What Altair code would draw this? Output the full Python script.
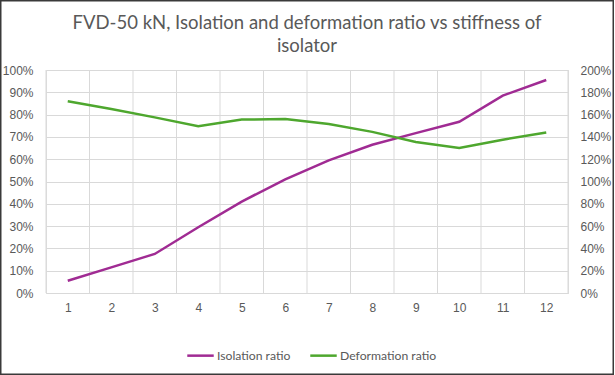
import altair as alt
import pandas as pd

# ---- data ----
categories = [1, 2, 3, 4, 5, 6, 7, 8, 9, 10, 11, 12]
isolation_ratio = [0.055, 0.115, 0.175, 0.295, 0.41, 0.51, 0.595, 0.665, 0.717, 0.768, 0.885, 0.955]
deformation_ratio = [1.72, 1.65, 1.575, 1.495, 1.555, 1.56, 1.515, 1.445, 1.355, 1.30, 1.375, 1.44]
series_names = ["Isolation ratio", "Deformation ratio"]
series_colors = ["#A02B93", "#4EA72E"]
left_ticks = [0, 0.1, 0.2, 0.3, 0.4, 0.5, 0.6, 0.7, 0.8, 0.9, 1.0]
right_ticks = [0, 0.2, 0.4, 0.6, 0.8, 1.0, 1.2, 1.4, 1.6, 1.8, 2.0]
title_lines = ["FVD-50 kN, Isolation and deformation ratio vs stiffness of", "isolator"]

df = pd.DataFrame({
    "k": categories * 2,
    "series": [series_names[0]] * len(categories) + [series_names[1]] * len(categories),
    "value": isolation_ratio + deformation_ratio,
})
# category boundaries for the vertical gridlines
bounds = pd.DataFrame({"k": [c - 0.5 for c in categories] + [categories[-1] + 0.5]})

GRID = "#d9d9d9"
TXT = "#595959"
AXFONT = "Liberation Sans"

x_scale = alt.Scale(domain=[categories[0] - 0.5, categories[-1] + 0.5], nice=False, zero=False)
x_axis = alt.Axis(values=categories, format="d", grid=False, ticks=False, domain=True,
                  domainColor=GRID, labelPadding=9, labelFont=AXFONT, labelFontSize=12,
                  labelColor=TXT, title=None)

color = alt.Color(
    "series:N",
    scale=alt.Scale(domain=series_names, range=series_colors),
    legend=alt.Legend(
        title=None, orient="none", direction="horizontal", legendX=140, legendY=271,
        symbolType="stroke", symbolSize=700, symbolStrokeWidth=2.5,
        labelFont="Lato", labelFontSize=12.2, labelColor=TXT, labelOffset=2,
        columnPadding=14,
    ),
)

# chart frame (decoration, in pixels relative to the plot area)
frame = alt.Chart(pd.DataFrame({"f": [0]})).mark_rect(
    fillOpacity=0, stroke="#3a3a3a", strokeWidth=1.5
).encode(
    x=alt.value(-45.25), x2=alt.value(567.25), y=alt.value(-69.25), y2=alt.value(304.25)
)

vgrid = alt.Chart(bounds).mark_rule(color=GRID, strokeWidth=1).encode(
    x=alt.X("k:Q", scale=x_scale, axis=x_axis)
)

iso = alt.Chart(df).transform_filter(alt.datum.series == series_names[0]).mark_line(
    strokeWidth=2.5
).encode(
    x=alt.X("k:Q", scale=x_scale, axis=x_axis),
    y=alt.Y("value:Q", scale=alt.Scale(domain=[0, 1], nice=False),
            axis=alt.Axis(orient="left", values=left_ticks, format=".0%", grid=True,
                          gridColor=GRID, domain=False, ticks=False, labelPadding=13,
                          labelFont=AXFONT, labelFontSize=12, labelColor=TXT, title=None)),
    color=color,
)

defo = alt.Chart(df).transform_filter(alt.datum.series == series_names[1]).mark_line(
    strokeWidth=2.5
).encode(
    x=alt.X("k:Q", scale=x_scale, axis=x_axis),
    y=alt.Y("value:Q", scale=alt.Scale(domain=[0, 2], nice=False),
            axis=alt.Axis(orient="right", values=right_ticks, format=".0%", grid=False,
                          domain=False, ticks=False, labelPadding=12,
                          labelFont=AXFONT, labelFontSize=12, labelColor=TXT, title=None)),
    color=color,
)

chart = alt.layer(vgrid, iso, defo, frame).resolve_scale(y="independent").properties(
    width=522, height=223,
    autosize=alt.AutoSizeParams(type="none"),
    padding={"left": 46, "top": 70, "right": 47, "bottom": 82},
    title=alt.Title(title_lines, font="Lato", fontSize=18.5, fontWeight="normal",
                    color=TXT, anchor="middle", offset=-55, lineHeight=23),
).configure_view(strokeWidth=0).configure(background="white")

chart.save("out.html", embed_options={"renderer": "svg", "actions": False})
